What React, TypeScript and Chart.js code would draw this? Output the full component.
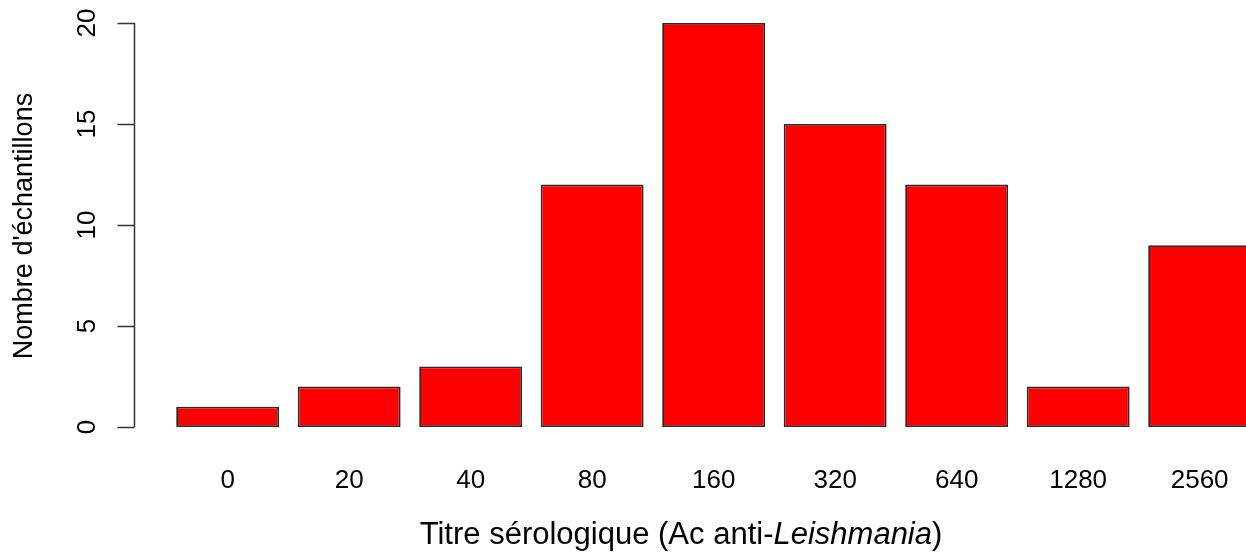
import React, { useEffect, useRef } from 'react';
import { Chart, registerables } from 'chart.js';

Chart.register(...registerables);

const categories = ['0', '20', '40', '80', '160', '320', '640', '1280', '2560'];
const counts = [1, 2, 3, 12, 20, 15, 12, 2, 9];
const yTicks = [0, 5, 10, 15, 20];
const yTitle = "Nombre d'échantillons";
const xTitleParts = [
  { text: 'Titre sérologique (Ac anti-', italic: false },
  { text: 'Leishmania', italic: true },
  { text: ')', italic: false },
];

const FONT = '"Liberation Sans", Arial, Helvetica, sans-serif';

const axisPlugin = {
  id: 'rStyleAxes',
  afterDraw(chart: any) {
    const { ctx, chartArea, scales } = chart;
    const x = scales.x;
    const y = scales.y;
    const cat = x.getPixelForValue(1) - x.getPixelForValue(0);
    const axisX = Math.round(chartArea.left - cat * 0.27) + 0.5;
    const y0 = y.getPixelForValue(yTicks[0]);
    const y1 = y.getPixelForValue(yTicks[yTicks.length - 1]);

    ctx.save();
    ctx.strokeStyle = '#333';
    ctx.lineWidth = 1.5;
    ctx.beginPath();
    ctx.moveTo(axisX, y0);
    ctx.lineTo(axisX, y1);
    for (const t of yTicks) {
      const py = Math.round(y.getPixelForValue(t)) + 0.5;
      ctx.moveTo(axisX - 17, py);
      ctx.lineTo(axisX, py);
    }
    ctx.stroke();

    // tick labels, rotated (parallel to axis)
    ctx.fillStyle = '#000';
    ctx.font = `26px ${FONT}`;
    ctx.textAlign = 'center';
    ctx.textBaseline = 'alphabetic';
    for (const t of yTicks) {
      const py = y.getPixelForValue(t);
      ctx.save();
      ctx.translate(axisX - 39.5, py);
      ctx.rotate(-Math.PI / 2);
      ctx.fillText(String(t), 0, 0);
      ctx.restore();
    }

    // y title
    ctx.font = `27px ${FONT}`;
    ctx.save();
    ctx.translate(32, (y0 + y1) / 2 + 1);
    ctx.rotate(-Math.PI / 2);
    ctx.fillText(yTitle, 0, 0);
    ctx.restore();

    // x title with italic part
    ctx.textAlign = 'left';
    const size = 31;
    const fonts = xTitleParts.map((p) => `${p.italic ? 'italic ' : ''}${size}px ${FONT}`);
    let total = 0;
    const widths = xTitleParts.map((p, i) => {
      ctx.font = fonts[i];
      const w = ctx.measureText(p.text).width;
      total += w;
      return w;
    });
    let cx = 681 - total / 2;
    xTitleParts.forEach((p, i) => {
      ctx.font = fonts[i];
      ctx.fillText(p.text, cx, 544);
      cx += widths[i];
    });
    ctx.restore();
  },
};

export default function App() {
  const ref = useRef<HTMLCanvasElement | null>(null);

  useEffect(() => {
    if (!ref.current) return;
    const chart = new Chart(ref.current, {
      type: 'bar',
      data: {
        labels: categories,
        datasets: [
          {
            data: counts,
            backgroundColor: '#FF0000',
            borderColor: '#2a2a2a',
            borderWidth: 1.8,
            borderSkipped: false,
            categoryPercentage: 1,
            barPercentage: 0.847,
          },
        ],
      },
      options: {
        responsive: false,
        animation: false,
        layout: { padding: { left: 166.9, right: 39.6, top: 23, bottom: 0 } },
        plugins: { legend: { display: false }, tooltip: { enabled: false } },
        scales: {
          x: {
            display: true,
            offset: true,
            grid: { display: false, drawTicks: false },
            border: { display: false },
            ticks: {
              color: '#000',
              font: { family: FONT, size: 26 },
              padding: 38,
              maxRotation: 0,
              autoSkip: false,
            },
            afterFit: (s: any) => {
              s.height = 129;
            },
          },
          y: { display: false, min: 0, max: 20 },
        },
      },
      plugins: [axisPlugin],
    } as any);
    return () => chart.destroy();
  }, []);

  return (
    <div
      style={{
        position: 'fixed',
        left: 0,
        top: 0,
        width: 1246,
        height: 556,
        overflow: 'hidden',
        background: '#fff',
      }}
    >
      <canvas ref={ref} width={1300} height={556} style={{ width: 1300, height: 556, display: 'block' }} />
    </div>
  );
}
